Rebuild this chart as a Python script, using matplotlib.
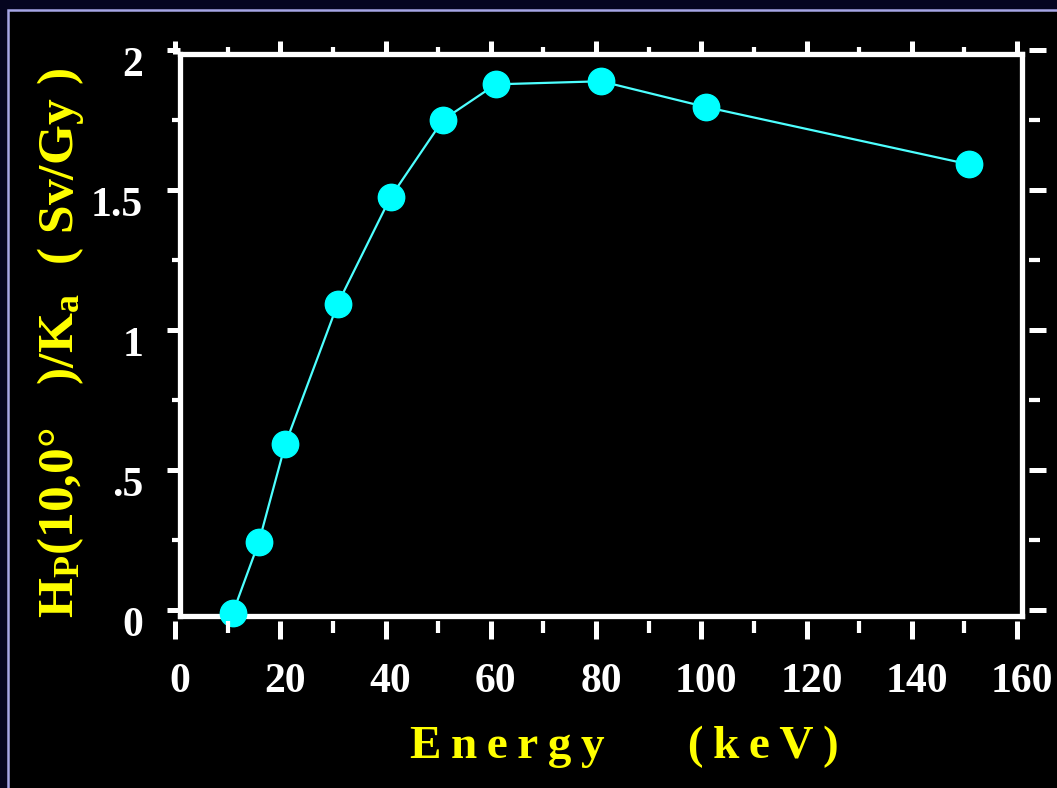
import matplotlib
matplotlib.use("Agg")
import matplotlib.pyplot as plt
from matplotlib.patches import Rectangle
from matplotlib.ticker import FixedLocator, MultipleLocator

# Hp(10,0°)/Ka conversion coefficients for the ICRU slab
energy_kev = [10, 15, 20, 30, 40, 50, 60, 80, 100, 150]
hp_per_ka = [0.009, 0.264, 0.611, 1.112, 1.490, 1.766, 1.892, 1.903, 1.811, 1.607]

x_ticks = [0, 20, 40, 60, 80, 100, 120, 140, 160]
x_tick_labels = ["0", "20", "40", "60", "80", "100", "120", "140", "160"]
y_ticks = [0, 0.5, 1, 1.5, 2]
y_tick_labels = ["0", ".5", "1", "1.5", "2"]

THIN = "\u2009"
x_label = THIN.join("Energy") + "       " + THIN.join("(keV)")
y_label = r"$\mathrm{H_P(10{,}0°\ \ \ )/K_a\ \ (\ Sv/Gy\ )}$"

plt.rcParams["mathtext.fontset"] = "custom"
plt.rcParams["mathtext.rm"] = "Liberation Serif:bold"
plt.rcParams["mathtext.it"] = "Liberation Serif:bold"
plt.rcParams["mathtext.bf"] = "Liberation Serif:bold"

W, H = 1057, 788
PX = 0.72  # points per pixel at 100 dpi
fig = plt.figure(figsize=(W / 100, H / 100), dpi=100, facecolor="#05051f")


def box(left, top, right, bottom):
    return [left / W, 1 - bottom / H, (right - left) / W, (bottom - top) / H]


# black slide panel with a light border
fig.patches.append(Rectangle((8 / W, -0.1), 1.2, 1.1 - 10 / H,
                             transform=fig.transFigure, facecolor="black",
                             edgecolor="#a6a6e6", lw=1.8, zorder=-5))

serif = dict(family="Liberation Serif", weight="bold")

# frame and data
ax = fig.add_axes(box(180, 54, 1022, 616))
ax.set_facecolor("black")
ax.set_xlim(0, 160)
ax.set_ylim(0, 2)
for s in ax.spines.values():
    s.set_color("white")
    s.set_linewidth(3.8)
ax.tick_params(which="both", length=0, labelbottom=False, labelleft=False)
ax.plot(energy_kev, hp_per_ka, color="#4dffff", lw=1.6, marker="o", ms=19,
        mfc="#00ffff", mec="#00ffff", clip_on=False, zorder=3)

# tick labels
axl = fig.add_axes(box(180, 62, 1022, 621), facecolor="none")
axl.set_xlim(0, 160)
axl.set_ylim(0, 2)
for s in axl.spines.values():
    s.set_visible(False)
axl.set_xticks(x_ticks, x_tick_labels)
axl.set_yticks(y_ticks, y_tick_labels)
axl.tick_params(axis="x", length=0, pad=30, labelsize=30, labelcolor="white")
axl.tick_params(axis="y", length=0, pad=26.6, labelsize=30, labelcolor="white")
for lab in axl.get_xticklabels() + axl.get_yticklabels():
    lab.set_fontfamily("Liberation Serif")
    lab.set_fontweight("bold")


def tick_axes(sides, pos, major_len, minor_len):
    a = fig.add_axes(box(175, 50, 1017, 610), facecolor="none")
    a.set_xlim(0, 160)
    a.set_ylim(0, 2)
    a.xaxis.set_major_locator(FixedLocator(x_ticks))
    a.xaxis.set_minor_locator(MultipleLocator(10))
    a.yaxis.set_major_locator(FixedLocator(y_ticks))
    a.yaxis.set_minor_locator(MultipleLocator(0.25))
    for name, s in a.spines.items():
        s.set_visible(False)
        if name in pos:
            s.set_position(("outward", pos[name] * PX))
    flags = {k: (k in sides) for k in ("bottom", "top", "left", "right")}
    a.tick_params(which="both", direction="out", color="white",
                  labelbottom=False, labelleft=False, labeltop=False,
                  labelright=False, **flags)
    for axis in ("x", "y"):
        a.tick_params(axis=axis, which="major", length=major_len[axis] * PX,
                      width=5 * PX)
        a.tick_params(axis=axis, which="minor", length=minor_len[axis] * PX,
                      width=4.2 * PX)
    return a


tick_axes(("bottom", "left"), {"bottom": 11, "left": -5},
          {"x": 18, "y": 13}, {"x": 12, "y": 8})
tick_axes(("top", "right"), {"top": -4, "right": 12},
          {"x": 13, "y": 17}, {"x": 7, "y": 11})

fig.text(624 / W, 1 - 758 / H, x_label, color="#ffff00", fontsize=34,
         ha="center", va="baseline", **serif)
fig.text(73 / W, 1 - 343 / H, y_label, color="#ffff00", fontsize=37,
         rotation=90, rotation_mode="anchor", ha="center", va="baseline")

fig.savefig("out.png", dpi=100, facecolor=fig.get_facecolor())
